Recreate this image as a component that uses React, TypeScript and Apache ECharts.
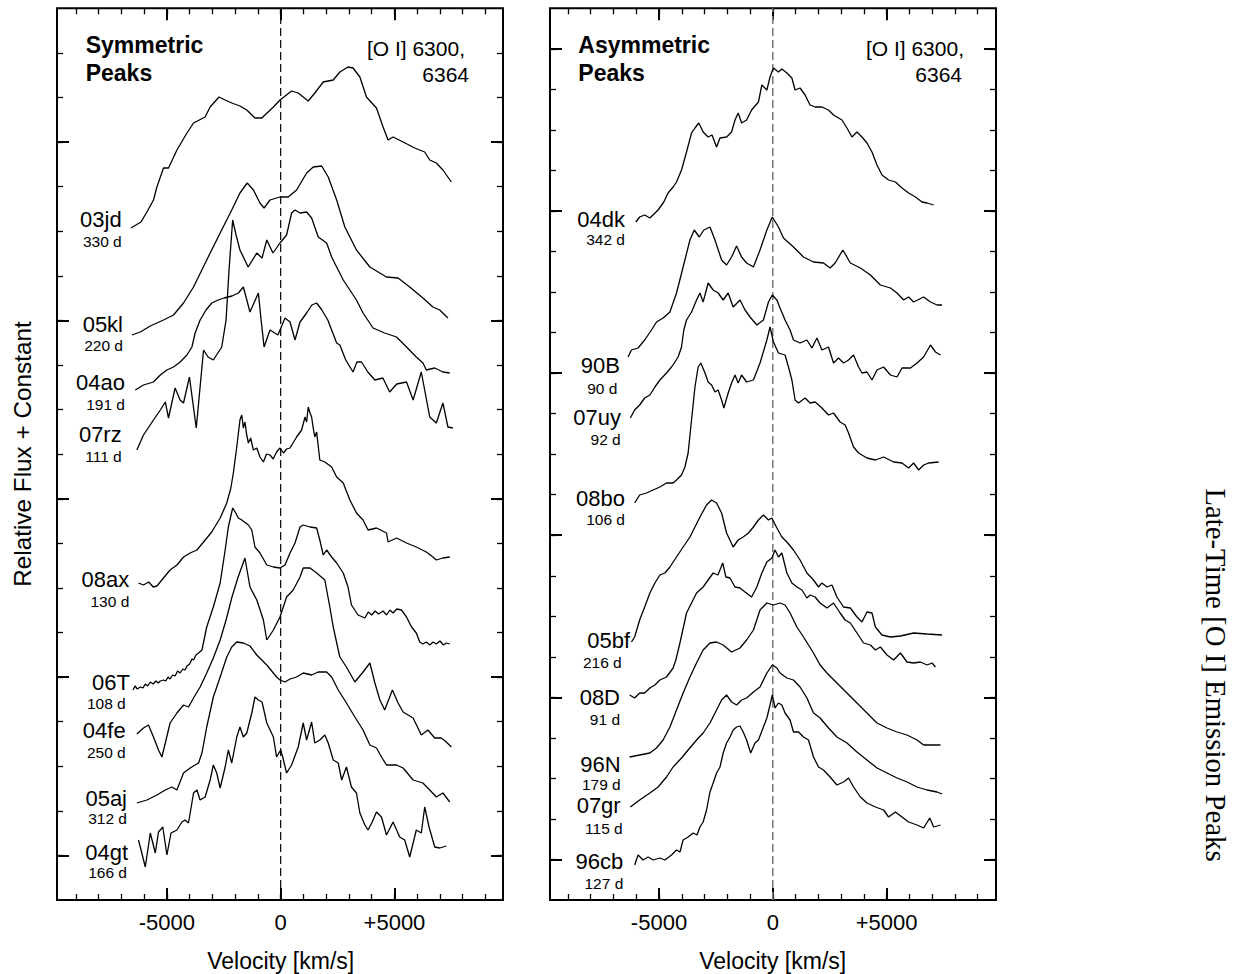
import React, { useEffect, useRef } from 'react';
import * as echarts from 'echarts';

// Velocity [km/s] vs relative flux + constant (arbitrary units, 0 = bottom of panel)
// ---------- Symmetric peaks (left panel) ----------
const s03jd = [[-6580,672],[-6140,678],[-5880,688],[-5590,700],[-5440,713],[-5150,732],[-4930,732],[-4560,750],[-4120,767],[-3830,777],[-3320,783],[-3100,793],[-2710,803],[-2440,800],[-2150,797],[-1790,794],[-1490,790],[-1130,782],[-830,782],[-320,793],[-30,800],[480,809],[770,807],[1210,799],[1500,807],[1870,818],[2310,820],[2600,828],[2960,833],[3180,832],[3480,823],[3770,803],[4210,792],[4500,773],[4720,760],[4940,763],[5380,758],[5890,752],[6330,748],[6550,740],[6840,737],[7130,730],[7500,718]];
const s05kl = [[-6540,565],[-6170,568],[-5730,574],[-5150,580],[-4710,585],[-4270,597],[-3830,613],[-3250,640],[-2660,667],[-2150,690],[-1790,707],[-1470,717],[-1200,710],[-910,697],[-730,692],[-470,700],[-30,703],[330,703],[700,710],[1140,727],[1430,733],[1800,734],[2090,723],[2460,700],[2820,673],[3330,650],[3920,633],[4650,623],[5160,622],[5670,613],[6250,602],[6690,593],[6990,590],[7350,582]];
const s04ao = [[-6390,510],[-6030,515],[-5590,518],[-5290,525],[-5000,530],[-4710,533],[-4420,538],[-4120,545],[-3900,553],[-3760,567],[-3540,580],[-3280,590],[-3030,597],[-2750,600],[-2490,602],[-2140,604],[-1860,607],[-1640,613],[-1350,588],[-980,607],[-860,580],[-730,553],[-470,570],[-120,565],[190,582],[410,578],[630,560],[850,578],[1140,587],[1370,595],[1580,597],[1810,590],[2070,580],[2460,557],[2600,555],[2860,540],[3180,528],[3350,538],[3550,538],[3830,528],[4140,520],[4490,522],[4790,508],[5100,516],[5530,518],[5820,500],[6180,528],[6550,483],[6840,477],[7130,497],[7350,473],[7570,472]];
const s07rz = [[-6320,450],[-6030,465],[-5590,480],[-5290,490],[-5070,498],[-4930,482],[-4640,512],[-4420,500],[-4270,497],[-4010,523],[-3710,472],[-3390,550],[-3190,543],[-2960,540],[-2590,553],[-2400,580],[-2270,630],[-2110,680],[-1960,665],[-1790,650],[-1430,633],[-1050,647],[-820,642],[-610,660],[-340,647],[-30,657],[260,665],[480,687],[630,690],[850,687],[1140,688],[1360,682],[1650,663],[2020,657],[2240,643],[2460,633],[2750,620],[3040,610],[3330,600],[3620,587],[4060,572],[4570,567],[5090,563],[5530,553],[5960,543],[6250,537],[6400,530],[6770,532],[7130,528],[7430,527]];
const s08ax = [[-6250,317],[-6030,315],[-5800,318],[-5600,313],[-5440,314],[-5150,322],[-4860,330],[-4560,335],[-4270,343],[-3980,347],[-3680,350],[-3390,358],[-3030,368],[-2660,382],[-2370,397],[-2190,412],[-2080,427],[-1930,453],[-1790,480],[-1710,485],[-1640,472],[-1570,478],[-1500,466],[-1420,457],[-1320,462],[-1200,450],[-1050,452],[-910,443],[-760,438],[-620,446],[-470,445],[-330,441],[-180,448],[-30,452],[120,447],[260,451],[410,452],[700,463],[920,470],[1070,483],[1140,478],[1210,493],[1290,487],[1360,483],[1430,472],[1500,463],[1580,468],[1720,440],[1940,438],[2240,433],[2460,423],[2750,417],[3040,400],[3330,387],[3620,380],[3840,370],[4210,372],[4650,367],[4720,358],[5090,362],[5530,357],[5960,353],[6400,348],[6690,343],[6840,340],[7130,342],[7430,343]];
const s06T = [[-6490,210],[-6400,214],[-6300,211],[-6170,213],[-6050,212],[-5950,216],[-5850,214],[-5730,218],[-5600,216],[-5480,219],[-5380,217],[-5290,219],[-5150,220],[-5050,219],[-4950,223],[-4860,221],[-4750,225],[-4640,224],[-4530,229],[-4420,227],[-4300,231],[-4200,230],[-4120,234],[-4000,236],[-3900,241],[-3830,240],[-3720,245],[-3610,247],[-3460,250],[-3250,273],[-2960,293],[-2660,317],[-2440,350],[-2300,373],[-2110,392],[-2000,388],[-1860,382],[-1710,380],[-1420,375],[-1270,370],[-1130,353],[-910,347],[-610,335],[-320,333],[-30,332],[190,335],[410,347],[630,357],[850,373],[990,375],[1290,373],[1580,372],[1720,360],[1870,345],[2020,350],[2240,343],[2460,337],[2750,327],[2960,313],[3110,295],[3400,285],[3700,282],[3850,288],[4000,285],[4150,289],[4300,286],[4500,289],[4650,285],[4800,290],[4940,287],[5100,291],[5310,290],[5530,283],[5750,273],[5960,267],[6110,258],[6250,256],[6400,258],[6550,255],[6700,258],[6840,256],[7000,259],[7150,255],[7280,257],[7430,256]];
const s04fe = [[-6320,166],[-6030,172],[-5810,175],[-5590,163],[-5370,150],[-5220,143],[-5070,157],[-4860,177],[-4560,187],[-4270,195],[-4050,193],[-3830,202],[-3540,213],[-3250,227],[-2960,242],[-2660,260],[-2400,280],[-2140,303],[-1870,323],[-1570,342],[-1350,313],[-1050,300],[-760,280],[-610,260],[-320,270],[-30,283],[260,303],[550,310],[850,323],[990,332],[1290,332],[1580,327],[1940,320],[2160,293],[2310,273],[2530,250],[2600,243],[2890,233],[3260,218],[3620,228],[3920,237],[4140,217],[4360,200],[4570,190],[4910,210],[5160,197],[5380,188],[5820,182],[6180,165],[6470,170],[6770,162],[7060,162],[7280,158],[7500,153]];
const s05aj = [[-6320,97],[-5880,100],[-5440,105],[-5070,110],[-4780,113],[-4560,110],[-4270,127],[-3980,132],[-3610,137],[-3460,147],[-3250,173],[-2960,203],[-2660,223],[-2370,243],[-2150,253],[-1930,258],[-1640,257],[-1350,254],[-1050,245],[-610,235],[-180,223],[-30,220],[190,218],[410,221],[700,223],[990,227],[1360,225],[1650,228],[2020,228],[2240,223],[2530,210],[2890,197],[3260,183],[3620,170],[3920,155],[4210,152],[4430,143],[4650,135],[5090,135],[5380,132],[5820,120],[6250,117],[6550,110],[6840,103],[7130,107],[7430,98]];
const s04gt = [[-6250,60],[-6170,53],[-5950,33],[-5730,67],[-5510,47],[-5370,68],[-5180,73],[-5000,45],[-4820,67],[-4560,70],[-4340,78],[-4200,80],[-4050,77],[-3830,107],[-3680,110],[-3540,100],[-3320,103],[-3100,120],[-2960,135],[-2810,127],[-2660,112],[-2440,133],[-2300,150],[-2150,137],[-1930,163],[-1790,173],[-1640,163],[-1490,167],[-1270,187],[-1130,203],[-980,200],[-820,198],[-610,177],[-320,163],[-180,143],[0,150],[100,142],[260,127],[480,135],[770,153],[990,177],[1140,160],[1360,178],[1500,157],[1720,160],[1940,165],[2090,157],[2310,140],[2530,137],[2680,120],[2890,133],[3110,113],[3330,107],[3480,87],[3700,75],[3840,70],[4000,77],[4210,88],[4430,83],[4650,65],[4940,78],[5230,63],[5450,60],[5670,43],[5960,70],[6180,67],[6330,93],[6520,73],[6770,53],[6990,52],[7280,54]];

// ---------- Asymmetric peaks (right panel) ----------
const s04dk = [[-6020,678],[-5850,683],[-5630,685],[-5400,682],[-5040,690],[-4790,698],[-4600,707],[-4380,713],[-4230,718],[-4010,730],[-3790,748],[-3570,767],[-3420,772],[-3250,777],[-3060,768],[-2840,763],[-2670,765],[-2470,753],[-2320,762],[-2030,763],[-1810,768],[-1660,780],[-1520,787],[-1370,777],[-1150,780],[-930,790],[-630,798],[-480,815],[-260,810],[-120,823],[30,832],[250,828],[400,831],[620,827],[840,822],[980,810],[1200,812],[1420,805],[1640,795],[1860,793],[2160,793],[2450,790],[2670,785],[3040,780],[3260,772],[3480,763],[3700,768],[3920,763],[4140,757],[4360,748],[4580,735],[4800,725],[5090,720],[5390,718],[5680,712],[5970,707],[6270,703],[6560,698],[6780,697],[7070,695]];
const s90B = [[-6360,543],[-6210,550],[-5920,552],[-5630,560],[-5330,570],[-5110,578],[-4820,582],[-4520,588],[-4230,607],[-3940,633],[-3640,660],[-3450,670],[-3230,663],[-3030,670],[-2760,673],[-2540,660],[-2250,640],[-2030,635],[-1810,643],[-1590,654],[-1370,643],[-1150,637],[-850,633],[-560,650],[-260,670],[-20,683],[250,673],[470,662],[910,653],[1350,643],[1790,638],[2230,637],[2520,632],[2740,637],[3080,650],[3410,637],[3850,632],[4290,625],[4730,615],[5170,612],[5460,607],[5750,600],[5970,603],[6190,598],[6630,603],[6930,598],[7220,595],[7440,595]];
const s07uy = [[-6260,482],[-6070,490],[-5850,495],[-5630,502],[-5400,505],[-5180,513],[-4960,520],[-4670,527],[-4450,533],[-4300,538],[-4160,543],[-4010,553],[-3910,570],[-3790,580],[-3570,588],[-3350,600],[-3200,607],[-3060,598],[-2840,617],[-2620,610],[-2400,607],[-2180,600],[-1960,607],[-1740,593],[-1440,600],[-1220,590],[-1000,583],[-700,575],[-410,580],[-190,598],[-20,605],[180,600],[320,592],[540,580],[760,570],[910,560],[1200,557],[1500,560],[1720,552],[1940,562],[2160,550],[2450,553],[2670,537],[2890,542],[3110,537],[3330,540],[3550,545],[3770,533],[3920,527],[4140,528],[4360,520],[4580,530],[4870,533],[5170,525],[5460,523],[5680,532],[6050,532],[6340,537],[6630,543],[6930,555],[7150,548],[7370,545]];
const s08bo = [[-6070,397],[-5850,405],[-5550,407],[-5260,410],[-4960,413],[-4670,417],[-4380,417],[-4230,420],[-4010,425],[-3860,433],[-3720,447],[-3570,480],[-3420,513],[-3280,533],[-3160,537],[-2980,527],[-2840,518],[-2690,515],[-2540,508],[-2400,510],[-2250,500],[-2150,492],[-1960,507],[-1810,517],[-1660,525],[-1520,517],[-1370,525],[-1150,518],[-850,520],[-560,537],[-260,560],[-120,573],[30,558],[250,547],[540,545],[690,533],[840,520],[980,500],[1130,497],[1420,502],[1640,497],[1860,498],[2160,492],[2450,485],[2670,487],[2960,478],[3180,475],[3330,467],[3550,453],[3770,447],[4140,442],[4510,440],[4870,443],[5310,438],[5680,437],[5970,432],[6190,437],[6410,430],[6630,435],[6850,437],[7290,438]];
const s05bf = [[-6210,258],[-6070,263],[-5850,280],[-5630,293],[-5400,307],[-5180,317],[-4960,325],[-4740,327],[-4520,333],[-4230,343],[-3940,353],[-3640,363],[-3420,373],[-3200,383],[-2910,395],[-2690,400],[-2470,397],[-2250,387],[-2030,367],[-1740,353],[-1520,360],[-1300,363],[-1070,367],[-850,373],[-630,380],[-410,385],[-190,380],[-40,382],[180,372],[400,363],[620,358],[910,350],[1200,340],[1500,327],[1790,320],[2010,313],[2160,317],[2380,313],[2600,315],[2820,303],[3110,293],[3410,292],[3700,283],[3920,278],[4140,288],[4360,287],[4510,273],[4800,265],[5170,263],[5610,264],[6190,267],[6780,266],[7440,265]];
const s08D = [[-6290,205],[-6070,202],[-5850,207],[-5630,207],[-5400,212],[-5180,215],[-4960,220],[-4670,223],[-4380,232],[-4260,240],[-4080,257],[-3790,287],[-3570,297],[-3350,307],[-3060,313],[-2840,320],[-2620,327],[-2410,325],[-2200,337],[-2060,323],[-1880,322],[-1660,313],[-1440,312],[-1220,308],[-930,303],[-700,313],[-480,327],[-260,338],[-40,342],[100,350],[250,343],[400,347],[620,327],[840,317],[1060,313],[1280,310],[1500,302],[1640,305],[1860,303],[2080,297],[2380,292],[2670,297],[2960,287],[3180,280],[3410,277],[3700,267],[3990,257],[4290,255],[4510,250],[4730,253],[5020,245],[5310,240],[5610,247],[5900,238],[6190,237],[6490,238],[6780,235],[7000,237],[7150,233]];
const s96N = [[-6290,143],[-5850,145],[-5400,147],[-5110,152],[-4820,160],[-4520,173],[-4230,190],[-3940,207],[-3640,223],[-3350,237],[-3060,250],[-2760,257],[-2470,258],[-2180,255],[-1810,248],[-1440,252],[-1150,260],[-850,270],[-560,290],[-260,297],[30,295],[320,297],[540,295],[760,287],[1060,273],[1350,263],[1570,255],[1790,247],[2080,235],[2380,227],[2820,217],[3260,207],[3700,197],[4140,187],[4580,177],[5020,172],[5460,168],[5900,165],[6340,160],[6630,155],[6930,155],[7370,155]];
const s07gr = [[-6260,93],[-5850,100],[-5400,107],[-5040,113],[-4670,123],[-4380,133],[-4010,142],[-3720,150],[-3350,160],[-3060,167],[-2760,177],[-2470,190],[-2250,200],[-2030,205],[-1810,198],[-1590,195],[-1370,200],[-1150,202],[-850,208],[-560,213],[-260,227],[-20,235],[180,232],[320,227],[620,222],[910,220],[1200,213],[1500,202],[1790,187],[2080,182],[2450,172],[2820,163],[3260,157],[3700,148],[4140,140],[4580,132],[5020,127],[5460,122],[5900,118],[6340,113],[6780,110],[7220,108],[7440,106]];
const s96cb = [[-6070,35],[-5920,45],[-5700,40],[-5480,43],[-5260,40],[-4960,42],[-4740,40],[-4450,45],[-4230,50],[-4080,48],[-3940,60],[-3720,63],[-3500,67],[-3330,65],[-3200,73],[-3060,78],[-2910,90],[-2760,108],[-2620,117],[-2470,127],[-2320,133],[-2180,147],[-2030,157],[-1880,163],[-1740,170],[-1590,173],[-1440,174],[-1300,168],[-1150,160],[-970,147],[-780,157],[-630,160],[-410,173],[-260,182],[-120,195],[-20,205],[100,192],[250,197],[400,195],[540,187],[760,180],[910,168],[1130,168],[1350,163],[1570,160],[1790,143],[2010,133],[2230,130],[2520,123],[2820,115],[3110,118],[3330,122],[3550,113],[3850,103],[4140,97],[4510,93],[4870,90],[5090,83],[5390,88],[5680,83],[5970,78],[6340,75],[6630,72],[6900,82],[7070,73],[7370,75]];

const symNames = ['03jd', '05kl', '04ao', '07rz', '08ax', '06T', '04fe', '05aj', '04gt'];
const symAges = ['330 d', '220 d', '191 d', '111 d', '130 d', '108 d', '250 d', '312 d', '166 d'];
const symSpectra = [s03jd, s05kl, s04ao, s07rz, s08ax, s06T, s04fe, s05aj, s04gt];

const asymNames = ['04dk', '90B', '07uy', '08bo', '05bf', '08D', '96N', '07gr', '96cb'];
const asymAges = ['342 d', '90 d', '92 d', '106 d', '216 d', '91 d', '179 d', '115 d', '127 d'];
const asymSpectra = [s04dk, s90B, s07uy, s08bo, s05bf, s08D, s96N, s07gr, s96cb];

const xMajorTicks = [-5000, 0, 5000];
const xMinorTicks = [-9000, -8000, -7000, -6000, -5000, -4000, -3000, -2000, -1000, 0, 1000, 2000, 3000, 4000, 5000, 6000, 7000, 8000, 9000];

const SANS = '"Liberation Sans", Arial, Helvetica, sans-serif';
const SERIF = '"Liberation Serif", "Times New Roman", serif';

function txt(x: number, y: number, text: string, size: number, align: string, extra: any = {}) {
  return {
    type: 'text', x, y, rotation: extra.rotation || 0, silent: true,
    style: {
      text, fill: '#000', fontSize: size, fontFamily: extra.family || SANS,
      fontWeight: extra.weight || 'normal',
      align, verticalAlign: 'middle', textAlign: align, textVerticalAlign: 'middle',
    },
  };
}

export default function App() {
  const ref = useRef<HTMLDivElement>(null);
  useEffect(() => {
    document.body.style.margin = '0';
    const chart = echarts.init(ref.current!, null, { renderer: 'svg' });

    const YMAX = 891.7;
    const grids = [
      { left: 57, top: 8.3, width: 446, height: YMAX, xr: [-9830, 9770], step: 44.58, n: 19, majors: [1, 5, 9, 13, 17] },
      { left: 550, top: 8.3, width: 446, height: YMAX, xr: [-9790, 9810], step: 40.53, n: 21, majors: [1, 5, 9, 13, 17, 21] },
    ];

    const xAxis: any[] = [];
    const yAxis: any[] = [];
    grids.forEach((g, gi) => {
      const xb = { type: 'value', gridIndex: gi, min: g.xr[0], max: g.xr[1], splitLine: { show: false }, axisLine: { show: false, onZero: false } };
      const tickMaj = (len: number) => ({ show: true, inside: true, length: len, lineStyle: { color: '#000', width: 2 }, customValues: xMajorTicks });
      const tickMin = { show: true, inside: true, length: 6, lineStyle: { color: '#000', width: 1.3 }, customValues: xMinorTicks };
      xAxis.push({ ...xb, position: 'bottom', axisTick: tickMaj(12), axisLabel: { show: true, customValues: xMajorTicks, margin: 11, fontSize: 22, color: '#000', fontFamily: SANS, formatter: (v: number) => (v > 0 ? '+' + v : String(v)) } });
      xAxis.push({ ...xb, position: 'bottom', axisTick: tickMin, axisLabel: { show: false } });
      xAxis.push({ ...xb, position: 'top', axisTick: tickMaj(12), axisLabel: { show: false } });
      xAxis.push({ ...xb, position: 'top', axisTick: tickMin, axisLabel: { show: false } });

      const minorVals: number[] = [];
      for (let k = 1; k <= g.n; k++) minorVals.push(k * g.step);
      const majorVals = g.majors.map((k) => k * g.step);
      const yb = { type: 'value', gridIndex: gi, min: 0, max: YMAX, splitLine: { show: false }, axisLine: { show: false, onZero: false }, axisLabel: { show: false } };
      const yMaj = { show: true, inside: true, length: 12, lineStyle: { color: '#000', width: 2 }, customValues: majorVals };
      const yMin = { show: true, inside: true, length: 6, lineStyle: { color: '#000', width: 1.3 }, customValues: minorVals };
      yAxis.push({ ...yb, position: 'left', axisTick: yMaj });
      yAxis.push({ ...yb, position: 'left', axisTick: yMin });
      yAxis.push({ ...yb, position: 'right', axisTick: yMaj });
      yAxis.push({ ...yb, position: 'right', axisTick: yMin });
    });

    const series: any[] = [];
    const addSpectra = (list: number[][][], gi: number) => {
      list.forEach((d) => {
        series.push({
          type: 'line', xAxisIndex: gi * 4, yAxisIndex: gi * 4, data: d, showSymbol: false, symbol: 'none',
          silent: true, lineStyle: { color: '#000', width: 1.3 },
        });
      });
    };
    addSpectra(symSpectra, 0);
    addSpectra(asymSpectra, 1);
    [0, 1].forEach((gi) => {
      series.push({
        type: 'line', xAxisIndex: gi * 4, yAxisIndex: gi * 4, data: [[0, 0], [0, YMAX]], showSymbol: false, symbol: 'none', silent: true,
        lineStyle: { color: gi === 0 ? '#000' : '#777', width: gi === 0 ? 1.2 : 1.5, type: [8, 4] }, z: 1,
      });
    });

    // label layout (right edge x, middle y of name, middle y of age)
    const symLabelPos = [
      [121.7, 219, 121.7, 241.3], [123, 324, 123, 345.3], [125, 382.3, 125, 404.6], [121.7, 434, 121.7, 456.3],
      [129.3, 579, 129.3, 601.3], [130, 682.3, 125.7, 703], [125.7, 730.6, 125.7, 752], [127, 798, 127, 818], [128, 852.3, 127, 872.3],
    ];
    const asymLabelPos = [
      [625, 219, 625, 239.6], [620, 365.6, 617.3, 388], [621, 417.3, 620.7, 439.6], [625, 498.3, 625, 519.6],
      [630, 640, 621.7, 662], [620, 697.5, 620, 719.6], [620.7, 764, 620.7, 784.6], [620.7, 805.7, 622.7, 828.6], [623.3, 861.5, 623.3, 883.6],
    ];

    const graphic: any[] = [];
    symNames.forEach((n, i) => {
      const p = symLabelPos[i];
      graphic.push(txt(p[0], p[1], n, 22, 'right'));
      graphic.push(txt(p[2], p[3], symAges[i], 15.5, 'right'));
    });
    asymNames.forEach((n, i) => {
      const p = asymLabelPos[i];
      graphic.push(txt(p[0], p[1], n, 22, 'right'));
      graphic.push(txt(p[2], p[3], asymAges[i], 15.5, 'right'));
    });
    graphic.push(txt(85.7, 45.3, 'Symmetric', 23, 'left', { weight: 'bold' }));
    graphic.push(txt(85.7, 73, 'Peaks', 23, 'left', { weight: 'bold' }));
    graphic.push(txt(578.3, 45.3, 'Asymmetric', 23, 'left', { weight: 'bold' }));
    graphic.push(txt(578.3, 73, 'Peaks', 23, 'left', { weight: 'bold' }));
    graphic.push(txt(465, 48.3, '[O I] 6300,', 21, 'right'));
    graphic.push(txt(469, 74.3, '6364', 21, 'right'));
    graphic.push(txt(964, 48.3, '[O I] 6300,', 21, 'right'));
    graphic.push(txt(962, 74.3, '6364', 21, 'right'));
    graphic.push(txt(280.7, 961, 'Velocity [km/s]', 23, 'center'));
    graphic.push(txt(772.7, 961, 'Velocity [km/s]', 23, 'center'));
    graphic.push(txt(22, 454, 'Relative Flux + Constant', 24.3, 'center', { rotation: Math.PI / 2 }));
    graphic.push(txt(1216, 675, 'Late-Time [O I] Emission Peaks', 28.8, 'center', { rotation: -Math.PI / 2, family: SERIF }));

    chart.setOption({
      animation: false,
      backgroundColor: '#fff',
      grid: grids.map((g) => ({ left: g.left, top: g.top, width: g.width, height: g.height, show: true, borderColor: '#000', borderWidth: 2, backgroundColor: 'transparent', containLabel: false })),
      xAxis,
      yAxis,
      series,
      graphic,
    });
    return () => chart.dispose();
  }, []);
  return <div ref={ref} style={{ width: 1238, height: 974 }} />;
}
